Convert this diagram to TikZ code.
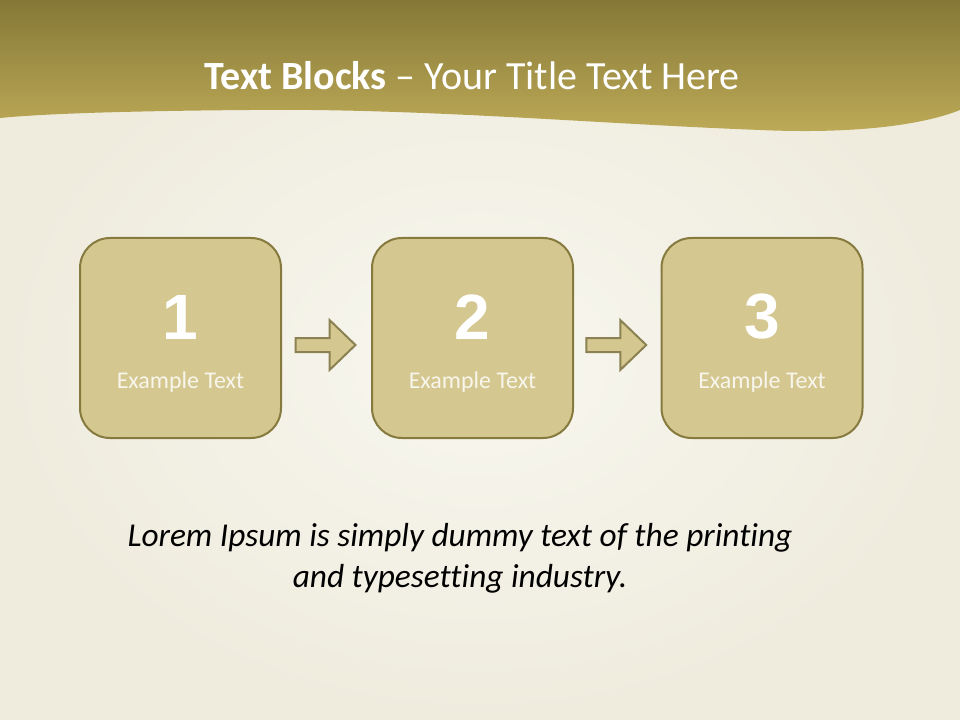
\documentclass[tikz,border=0pt]{standalone}
\usepackage{fontspec}
\setmainfont{Carlito}[Ligatures=NoCommon]
\newfontfamily\numfont{Liberation Sans}
\usetikzlibrary{calc}

\definecolor{bgcream}{RGB}{248,247,239}
\definecolor{bgedge}{RGB}{239,236,222}
\definecolor{headdark}{RGB}{133,120,55}
\definecolor{headlight}{RGB}{190,171,88}
\definecolor{boxfill}{RGB}{212,199,143}
\definecolor{boxline}{RGB}{134,122,62}
\definecolor{arrowline}{RGB}{140,129,82}
\definecolor{capwhite}{RGB}{248,246,236}

\tikzset{
  block/.style={draw=boxline, line width=1.5pt, fill=boxfill, rounded corners=22.5pt,
                minimum width=150.75pt, minimum height=150pt},
  blockarrow/.style={draw=arrowline, line width=1.5pt, fill=boxfill},
  bignum/.style={text=white, font=\numfont\bfseries\fontsize{48}{52}\selectfont},
  captext/.style={text=capwhite, font=\fontsize{18}{21}\selectfont}
}

\begin{document}
\begin{tikzpicture}[x=0.75pt, y=-0.75pt]
        \useasboundingbox (0,0) rectangle (960,720);
        % background and header band
        \shade[inner color=bgcream, outer color=bgedge] (0,0) rectangle (960,720);
        \shade[top color=headdark, bottom color=headlight]
            (0,0) -- (960,0) -- (960,110)
            .. controls (920,126) and (850,134) .. (760,130)
            .. controls (600,124) and (420,108) .. (250,110)
            .. controls (120,111) and (40,114) .. (0,118) -- cycle;
        \node[text=white, font=\fontsize{30}{36}\selectfont] (title) at (472,76)
            {\textbf{Text Blocks} \textendash{} Your Title Text Here};

        % the three blocks
        \node[block] (b1) at (180.5,338) {};
        \node[block] (b2) at (472.5,338) {};
        \node[block] (b3) at (762,338) {};
        \node[bignum] (n1) at (180.5,317) {1};
        \node[bignum] (n2) at (472.5,317) {2};
        \node[bignum] (n3) at (762,317) {3};
        \node[captext] (t1) at (180.5,382) {Example Text};
        \node[captext] (t2) at (472.5,382) {Example Text};
        \node[captext] (t3) at (762,382) {Example Text};

        % arrows between blocks
        \coordinate (a1) at ($(b1.east)!0.5!(b2.west)+(-1,7)$);
        \coordinate (a2) at ($(b2.east)!0.5!(b3.west)+(-1,7)$);
        \draw[blockarrow, shift={(a1)}] (-30,-7) -- (4,-7) -- (4,-25) -- (30,0) -- (4,25) -- (4,7) -- (-30,7) -- cycle;
        \draw[blockarrow, shift={(a2)}] (-30,-7) -- (4,-7) -- (4,-25) -- (30,0) -- (4,25) -- (4,7) -- (-30,7) -- cycle;

        \node[align=center, font=\itshape\fontsize{25}{31}\selectfont] (lorem) at (460,558)
            {Lorem Ipsum is simply dummy text of the printing\\and typesetting industry.};
    \end{tikzpicture}
\end{document}
